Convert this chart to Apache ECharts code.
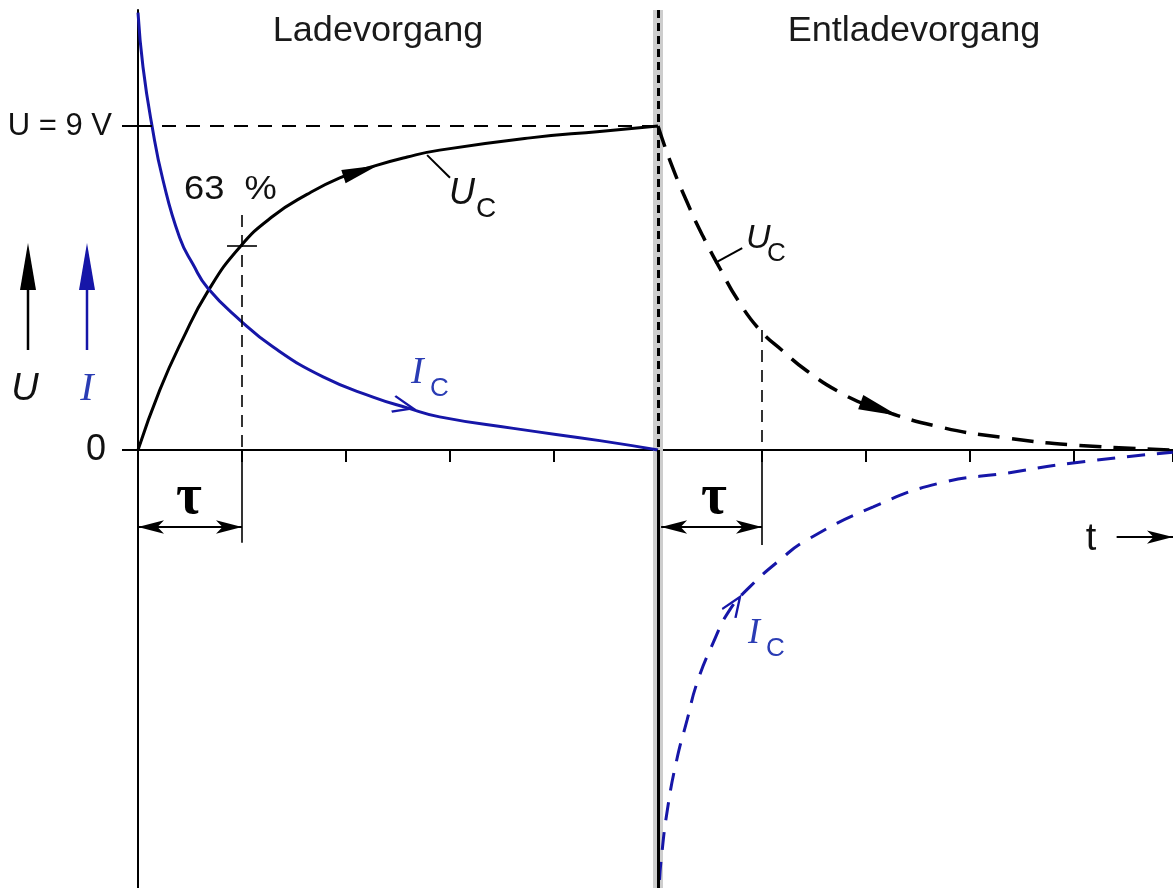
<!DOCTYPE html>
<html>
<head>
<meta charset="utf-8">
<script src="https://cdn.jsdelivr.net/npm/echarts@6/dist/echarts.min.js"></script>
<style>
html, body { margin: 0; padding: 0; background: #fff; }
#main { width: 1173px; height: 888px; }
</style>
</head>
<body>
<div id="main"></div>
<script>
// t in units of tau, values in volt scale
var chargeT = [0, 0.21, 0.43, 0.67, 0.98, 1.30, 1.625, 1.94, 2.26, 2.59, 2.90, 3.77, 4.44, 5.0];
var chargeU = [0, 1.67, 3.08, 4.4, 5.64, 6.5, 7.1, 7.56, 7.88, 8.14, 8.33, 8.67, 8.85, 9.0];
var chargeIT = [0, 0.048, 0.135, 0.24, 0.40, 0.53, 0.67, 0.98, 1.30, 1.78, 2.26, 2.59, 2.90, 3.61, 4.44, 5.0];
var chargeI = [12.15, 10.64, 9.0, 7.5, 5.9, 5.15, 4.5, 3.61, 2.86, 2.03, 1.47, 1.17, 0.92, 0.6, 0.26, 0];
var dischargeT = [5.0, 5.115, 5.28, 5.43, 5.60, 5.76, 5.98, 6.20, 6.43, 6.75, 7.07, 7.71, 8.36, 8.99, 9.95];
var dischargeU = [9.0, 8.04, 6.88, 5.95, 5.02, 4.2, 3.33, 2.75, 2.2, 1.6, 1.19, 0.64, 0.33, 0.14, 0];
var dischargeIT = [5.015, 5.03, 5.09, 5.18, 5.28, 5.375, 5.53, 5.69, 5.88, 6.17, 6.43, 7.07, 7.71, 8.36, 8.99, 9.95];
var dischargeI = [-11.94, -11.39, -10.0, -8.61, -7.5, -6.47, -5.36, -4.44, -3.81, -3.06, -2.5, -1.58, -0.92, -0.64, -0.36, -0.06];

var yTicks = [0, 9];
var titles = ['Ladevorgang', 'Entladevorgang'];

function pairs(xs, ys) {
  return xs.map(function (x, i) { return [x, ys[i]]; });
}

var BLUE = '#1616a8';
var BLUE_TXT = '#2a3cb4';
var arrowPath = 'path://M0,0 L40,8 L0,16 Z';
var chevronPath = 'path://M0,0 L20,8 L0,16';
var SANS = '"Liberation Sans", Arial, sans-serif';
var SERIF = '"Liberation Serif", "Times New Roman", serif';

function seg(a, b, style, sym) {
  var p = { coord: a, lineStyle: style };
  var q = { coord: b };
  if (sym) { p.symbol = sym[0]; q.symbol = sym[1]; }
  return [p, q];
}

var thin = { color: '#000', width: 1.6, type: [12, 8] };
var thinSolid = { color: '#000', width: 1.6, type: 'solid' };

function txt(x, y, text, font, fill, align, sx) {
  return {
    type: 'text', x: x, y: y, silent: true, scaleX: sx || 1,
    style: { text: text, font: font, fill: fill || '#111', textAlign: align || 'left', textVerticalAlign: 'middle' }
  };
}

var myChart = echarts.init(document.getElementById('main'));

var option = {
  animation: false,
  backgroundColor: '#fff',
  grid: { left: 138, right: 0, top: 10, bottom: 0, containLabel: false, outerBoundsMode: 'none' },
  xAxis: {
    type: 'value', min: 0, max: 9.952, interval: 1,
    axisLine: { lineStyle: { color: '#000', width: 2 } },
    axisTick: { length: 12, lineStyle: { color: '#000', width: 2 } },
    axisLabel: { show: false },
    splitLine: { show: false }
  },
  yAxis: {
    type: 'value', min: -12.167, max: 12.222,
    axisLine: { show: true, lineStyle: { color: '#000', width: 2 } },
    axisTick: { show: true, customValues: yTicks, length: 16, lineStyle: { color: '#000', width: 2 } },
    axisLabel: {
      customValues: yTicks, margin: 26, color: '#111',
      formatter: function (v) { return v === 0 ? '{z|0}' : '{n|U = 9 V}'; },
      rich: {
        z: { fontSize: 36, fontFamily: SANS, color: '#111', padding: [0, 6, 0, 0] },
        n: { fontSize: 31, fontFamily: SANS, color: '#111' }
      }
    },
    splitLine: { show: false }
  },
  graphic: [
    txt(378, 31, titles[0], '35px ' + SANS, '#1a1a1a', 'center', 1.03),
    txt(914, 31, titles[1], '35px ' + SANS, '#1a1a1a', 'center', 1.03),
    txt(184, 190, '63  %', '33px ' + SANS, '#111', 'left', 1.1),
    txt(449, 194, 'U', 'italic 36px ' + SANS),
    txt(476, 209, 'C', '28px ' + SANS),
    txt(746, 239, 'U', 'italic 34px ' + SANS),
    txt(767, 254, 'C', '26px ' + SANS),
    txt(411, 373, 'I', 'italic 38px ' + SERIF, BLUE_TXT),
    txt(430, 389, 'C', '26px ' + SANS, BLUE_TXT),
    txt(748, 634, 'I', 'italic 36px ' + SERIF, BLUE_TXT),
    txt(766, 649, 'C', '26px ' + SANS, BLUE_TXT),
    txt(25, 389, 'U', 'italic 38px ' + SANS, '#111', 'center'),
    txt(87, 389, 'I', 'italic 40px ' + SERIF, BLUE_TXT, 'center'),
    txt(189, 499, '\u03c4', 'bold 56px ' + SERIF, '#000', 'center'),
    txt(714, 499, '\u03c4', 'bold 56px ' + SERIF, '#000', 'center'),
    txt(1091, 540, 't', '38px ' + SANS, '#111', 'center'),
    { type: 'line', silent: true, shape: { x1: 28, y1: 350, x2: 28, y2: 280 }, style: { stroke: '#000', lineWidth: 2.5 } },
    { type: 'polygon', silent: true, shape: { points: [[28, 243], [20, 290], [36, 290]] }, style: { fill: '#000' } },
    { type: 'line', silent: true, shape: { x1: 87, y1: 350, x2: 87, y2: 280 }, style: { stroke: BLUE, lineWidth: 2.5 } },
    { type: 'polygon', silent: true, shape: { points: [[87, 243], [79, 290], [95, 290]] }, style: { fill: BLUE } }
  ],
  series: [
    {
      name: 'band', type: 'line', data: [], z: 1, silent: true,
      markArea: {
        silent: true,
        itemStyle: { color: '#cdcdcd' },
        data: [[{ xAxis: 4.952 }, { xAxis: 5.048 }]]
      }
    },
    {
      name: 'guides', type: 'line', data: [], z: 2, silent: true,
      markLine: {
        silent: true, animation: false,
        symbol: ['none', 'none'], symbolSize: [10, 26],
        label: { show: false },
        emphasis: { disabled: true },
        data: [
          seg([0, 9], [5, 9], { color: '#000', width: 2, type: [14, 10] }),
          seg([5, 12.222], [5, 0], { color: '#000', width: 3, type: [8, 5] }),
          seg([5, 0], [5, -12.167], { color: '#000', width: 3, type: 'solid' }),
          seg([1, 6.53], [1, 0], thin),
          seg([1, 0], [1, -2.58], thinSolid),
          seg([0.856, 5.67], [1.144, 5.67], thinSolid),
          seg([6, 3.33], [6, 0], thin),
          seg([6, 0], [6, -2.64], thinSolid),
          seg([0, -2.14], [1, -2.14], { color: '#000', width: 2, type: 'solid' }, ['arrow', 'arrow']),
          seg([5.03, -2.14], [6, -2.14], { color: '#000', width: 2, type: 'solid' }, ['arrow', 'arrow']),
          seg([9.41, -2.42], [9.952, -2.42], { color: '#000', width: 2, type: 'solid' }, ['none', 'arrow']),
          seg([2.78, 8.19], [3.0, 7.56], { color: '#000', width: 2, type: 'solid' }),
          seg([5.55, 5.2], [5.81, 5.61], { color: '#000', width: 2, type: 'solid' })
        ]
      }
    },
    {
      name: 'U_C Laden', type: 'line', z: 3, data: pairs(chargeT, chargeU),
      smooth: 0.5, showSymbol: false, silent: true,
      lineStyle: { color: '#000', width: 3 },
      markPoint: {
        silent: true, label: { show: false },
        data: [{ coord: [2.14, 7.75], symbol: arrowPath, symbolSize: [36, 14], symbolRotate: 18, itemStyle: { color: '#000' } }]
      }
    },
    {
      name: 'I_C Laden', type: 'line', z: 3, data: pairs(chargeIT, chargeI),
      smooth: 0.5, showSymbol: false, silent: true,
      lineStyle: { color: BLUE, width: 3 },
      markPoint: {
        silent: true, label: { show: false },
        data: [{ coord: [2.55, 1.22], symbol: chevronPath, symbolSize: [20, 16], symbolRotate: -13, itemStyle: { color: 'none', borderColor: BLUE, borderWidth: 2.5 } }]
      }
    },
    {
      name: 'U_C Entladen', type: 'line', z: 3, data: pairs(dischargeT, dischargeU),
      smooth: 0.5, showSymbol: false, silent: true,
      lineStyle: { color: '#000', width: 3.5, type: [22, 12] },
      markPoint: {
        silent: true, label: { show: false },
        data: [{ coord: [7.13, 1.14], symbol: arrowPath, symbolSize: [40, 15], symbolRotate: -20, itemStyle: { color: '#000' } }]
      }
    },
    {
      name: 'I_C Entladen', type: 'line', z: 3, data: pairs(dischargeIT, dischargeI),
      smooth: 0.5, showSymbol: false, silent: true,
      lineStyle: { color: BLUE, width: 3, type: [18, 12] },
      markPoint: {
        silent: true, label: { show: false },
        data: [{ coord: [5.735, -4.31], symbol: chevronPath, symbolSize: [20, 16], symbolRotate: 56, itemStyle: { color: 'none', borderColor: BLUE, borderWidth: 2.5 } }]
      }
    }
  ]
};

myChart.setOption(option);
</script>
</body>
</html>
